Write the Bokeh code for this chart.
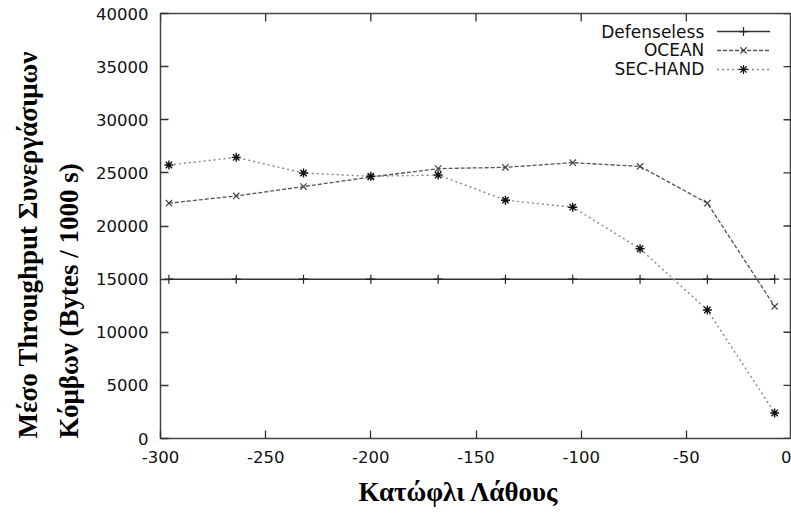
from bokeh.plotting import figure
from bokeh.models import Range1d, FixedTicker, Label, Title
from bokeh.embed import file_html
from bokeh.resources import INLINE

# ---- data ----
x_vals = [-296, -264, -232, -200, -168, -136, -104, -72, -40, -8]
defenseless = [15000, 15000, 15000, 15000, 15000, 15000, 15000, 15000, 15000, 15000]
ocean = [22150, 22830, 23710, 24610, 25400, 25520, 25960, 25610, 22150, 12430]
sec_hand = [25740, 26460, 24990, 24680, 24800, 22430, 21770, 17860, 12090, 2400]
series_names = ["Defenseless", "OCEAN", "SEC-HAND"]
x_ticks = [-300, -250, -200, -150, -100, -50, 0]
y_ticks = [0, 5000, 10000, 15000, 20000, 25000, 30000, 35000, 40000]
x_title = "Κατώφλι Λάθους"
y_title_1 = "Μέσο Throughput  Συνεργάσιμων"
y_title_2 = "Κόμβων  (Bytes / 1000 s)"

X0, X1, Y0, Y1 = -300, 0, 0, 40000
W, H = 791, 515
BL, BR, BT, BB = 160, 0, 13, 76

p = figure(width=W, height=H, output_backend="svg", toolbar_location=None,
           x_range=Range1d(X0, X1), y_range=Range1d(Y0, Y1),
           min_border_left=BL, min_border_right=BR, min_border_top=BT, min_border_bottom=BB)
p.background_fill_color = "white"
p.border_fill_color = "white"
p.outline_line_color = "#444444"
p.outline_line_width = 1.5
p.xgrid.visible = False
p.ygrid.visible = False

tick_font = "DejaVu Sans"

def style_axis(ax, ticks):
    ax.ticker = FixedTicker(ticks=ticks)
    ax.major_label_overrides = {t: str(t) for t in ticks}
    ax.axis_line_color = None
    ax.major_tick_in = 8
    ax.major_tick_out = 0
    ax.minor_tick_line_color = None
    ax.major_tick_line_color = "#333333"
    ax.major_tick_line_width = 1.3
    ax.major_label_text_font = tick_font
    ax.major_label_text_color = "#111111"
    ax.major_label_text_font_size = "16.5px"
    ax.major_label_standoff = 12

xa = p.xaxis[0]
ya = p.yaxis[0]
style_axis(xa, x_ticks)
style_axis(ya, y_ticks)

# axis titles (left-aligned two-line y title, shifted x title as in reference)
p.add_layout(Title(text=y_title_2, align="left", text_font="Liberation Serif",
                   text_font_style="bold", text_font_size="27px", text_color="black",
                   standoff=19), "left")
p.add_layout(Title(text=y_title_1, align="left", text_font="Liberation Serif",
                   text_font_style="bold", text_font_size="27px", text_color="black",
                   standoff=0), "left")
p.add_layout(Title(text=x_title, align="left", offset=198, text_font="Liberation Serif",
                   text_font_style="bold", text_font_size="27px", text_color="black",
                   standoff=18), "below")

# mirrored inward ticks on the top and right frame edges (8 px long)
frame_w = W - BL - BR
frame_h = H - BT - BB
tdy = 8 * (Y1 - Y0) / frame_h
tdx = 8 * (X1 - X0) / frame_w
p.segment(x0=x_ticks, y0=[Y1] * len(x_ticks), x1=x_ticks, y1=[Y1 - tdy] * len(x_ticks),
          line_color="#333333", line_width=1.3)
p.segment(x0=[X1] * len(y_ticks), y0=y_ticks, x1=[X1 - tdx] * len(y_ticks), y1=y_ticks,
          line_color="#333333", line_width=1.3)

# ---- series ----
p.line(x_vals, defenseless, line_color="#333333", line_width=1.5)
p.scatter(x_vals, defenseless, marker="cross", size=9, line_color="#222222", line_width=1.2)

p.line(x_vals, ocean, line_color="#555555", line_width=1.3, line_dash="4 2")
p.scatter(x_vals, ocean, marker="x", size=9, line_color="#444444", line_width=1.2)

p.line(x_vals, sec_hand, line_color="#888888", line_width=1.4, line_dash="2 3")
p.scatter(x_vals, sec_hand, marker="asterisk", size=9, line_color="#111111", line_width=1.4)

# ---- legend (text left of glyph sample, as in reference) ----
leg_text_x = X0 + 0.8617 * (X1 - X0)
leg_line_x0 = X0 + 0.882 * (X1 - X0)
leg_line_x1 = X0 + 0.966 * (X1 - X0)
leg_mark_x = (leg_line_x0 + leg_line_x1) / 2
leg_ys = [Y0 + f * (Y1 - Y0) for f in (0.9575, 0.913, 0.8685)]
leg_styles = [
    dict(color="#333333", dash="solid", marker="cross", mcolor="#222222"),
    dict(color="#555555", dash="4 2", marker="x", mcolor="#444444"),
    dict(color="#888888", dash="2 3", marker="asterisk", mcolor="#111111"),
]
for name, ly, st in zip(series_names, leg_ys, leg_styles):
    p.add_layout(Label(x=leg_text_x, y=ly, text=name, text_align="right",
                       text_baseline="middle", text_font="DejaVu Sans",
                       text_font_size="17px", text_color="#111111"))
    p.segment(x0=[leg_line_x0], y0=[ly], x1=[leg_line_x1], y1=[ly],
              line_color=st["color"], line_width=1.5, line_dash=st["dash"])
    p.scatter([leg_mark_x], [ly], marker=st["marker"], size=9,
              line_color=st["mcolor"], line_width=1.2)

open("out.html", "w").write(file_html(p, INLINE))
